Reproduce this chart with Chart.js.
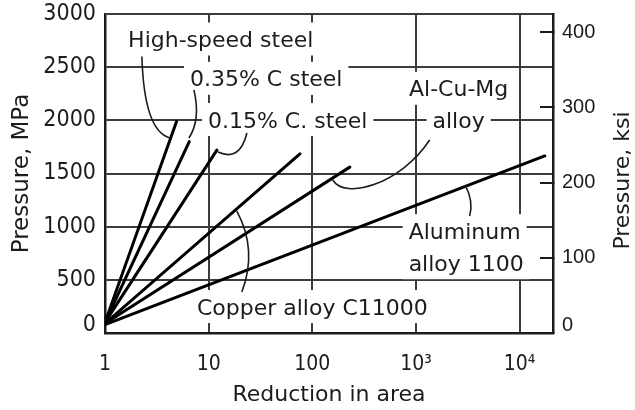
<!DOCTYPE html>
<html>
<head>
<meta charset="utf-8">
<script src="https://cdn.jsdelivr.net/npm/chart.js@4.4.1/dist/chart.umd.min.js"></script>
<style>
  html, body { margin: 0; padding: 0; background: #fff; }
  canvas { display: block; }
</style>
</head>
<body>
<canvas id="chart" width="635" height="410"></canvas>
<script>
// Extrusion pressure against reduction in area, one straight run per material
const materials = ['High-speed steel', '0.35% C steel', '0.15% C. steel', 'Copper alloy C11000', 'Al-Cu-Mg alloy', 'Aluminum alloy 1100'];
const startReduction = [1, 1, 1, 1, 1, 1];
const startPressure = [100, 100, 100, 90, 90, 80];
const endReduction = [4.9, 6.5, 12, 76, 230, 17500];
const endPressure = [1990, 1800, 1720, 1685, 1560, 1665];

// Axis ticks
const xTickValues = [1, 10, 100, 1000, 10000];
const xTickLabels = ['1', '10', '100', '10³', '10⁴'];
const mpaTicks = [0, 500, 1000, 1500, 2000, 2500, 3000];
const ksiTicks = [0, 100, 200, 300, 400];

// Callout text, anchored in data units (reduction, MPa)
const calloutText = [
  ['High-speed steel'],
  ['0.35% C steel'],
  ['0.15% C. steel'],
  ['Al-Cu-Mg', 'alloy'],
  ['Aluminum', 'alloy 1100'],
  ['Copper alloy C11000']
];
const calloutAt = [[1.67, 2765], [6.6, 2395], [9.85, 2008], [2580, 2301], [850, 962], [7.7, 249]];
const calloutAlign = ['left', 'left', 'left', 'center', 'left', 'left'];

// Leader curves from callouts to their lines (data units)
const leaderPaths = [
  [[2.27, 2600], [2.38, 1900], [4.23, 1834]],
  [[7.21, 2286], [8.42, 2003], [6.45, 1834]],
  [[23.4, 1881], [20.0, 1608], [12.3, 1702]],
  [[1357, 1815], [697, 1392], [206, 1251], [157.6, 1439]],
  [[18.7, 1147], [29.8, 781], [20.9, 386]],
  [[3016, 1382], [3602, 1241], [3296, 1100]]
];

const INK = '#1c1c1c';
const GRID = '#3c3c3c';
const SANS = '"DejaVu Sans", "Liberation Sans", sans-serif';
const NARROW = '"Liberation Sans Narrow", "DejaVu Sans Condensed", "Liberation Sans", sans-serif';
const NOTE_SIZE = 22;
const NOTE_FONT = NOTE_SIZE + 'px ' + SANS;
const LINE_GAP = 32;
const BOX_PAD_X = 6;
const BOX_HALF_H = 16.5;

function toPx(chart, p) {
  return [chart.scales.x.getPixelForValue(p[0]), chart.scales.y.getPixelForValue(p[1])];
}

function eachCalloutLine(chart, ctx, fn) {
  calloutText.forEach((lines, k) => {
    const [x0, y0] = toPx(chart, calloutAt[k]);
    lines.forEach((t, i) => {
      const w = ctx.measureText(t).width;
      const left = calloutAlign[k] === 'center' ? x0 - w / 2 : x0;
      fn(t, left, y0 + i * LINE_GAP, w);
    });
  });
}

const calloutPlugin = {
  id: 'callouts',
  beforeDatasetsDraw(chart) {
    // white panels behind the callouts interrupt the grid
    const ctx = chart.ctx;
    ctx.save();
    ctx.font = NOTE_FONT;
    ctx.fillStyle = '#fff';
    eachCalloutLine(chart, ctx, (t, left, cy, w) => {
      ctx.fillRect(left - BOX_PAD_X, cy - BOX_HALF_H, w + 2 * BOX_PAD_X, 2 * BOX_HALF_H);
    });
    ctx.restore();
  },
  afterDatasetsDraw(chart) {
    const ctx = chart.ctx;
    ctx.save();
    // leader curves
    ctx.strokeStyle = INK;
    ctx.lineWidth = 1.6;
    leaderPaths.forEach(path => {
      const p = path.map(q => toPx(chart, q));
      ctx.beginPath();
      ctx.moveTo(p[0][0], p[0][1]);
      if (p.length === 3) ctx.quadraticCurveTo(p[1][0], p[1][1], p[2][0], p[2][1]);
      else ctx.bezierCurveTo(p[1][0], p[1][1], p[2][0], p[2][1], p[3][0], p[3][1]);
      ctx.stroke();
    });
    // callout text, cap height centred on the anchor
    ctx.font = NOTE_FONT;
    ctx.fillStyle = INK;
    ctx.textAlign = 'left';
    ctx.textBaseline = 'alphabetic';
    eachCalloutLine(chart, ctx, (t, left, cy) => {
      ctx.fillText(t, left, cy + NOTE_SIZE * 0.365);
    });
    // right-hand axis title, reading bottom to top
    const area = chart.chartArea;
    ctx.font = '22px ' + SANS;
    ctx.textAlign = 'center';
    ctx.textBaseline = 'middle';
    ctx.translate(chart.width - 12, (area.top + area.bottom) / 2 + 7);
    ctx.rotate(-Math.PI / 2);
    ctx.fillText('Pressure, ksi', 0, 0);
    ctx.restore();
  }
};

const datasets = materials.map((name, i) => ({
  label: name,
  data: [
    { x: startReduction[i], y: startPressure[i] },
    { x: endReduction[i], y: endPressure[i] }
  ],
  borderColor: '#000',
  borderWidth: 3,
  borderCapStyle: 'round',
  pointRadius: 0,
  tension: 0,
  xAxisID: 'x',
  yAxisID: 'y'
}));

// fixed axis bands; end labels may overhang the plot edges
function fixBand(size) {
  return s => {
    if (s.isHorizontal()) s.height = size; else s.width = size;
    s.paddingTop = 0; s.paddingBottom = 0; s.paddingLeft = 0; s.paddingRight = 0;
  };
}

new Chart(document.getElementById('chart'), {
  type: 'line',
  data: { datasets },
  plugins: [calloutPlugin],
  options: {
    responsive: false,
    animation: false,
    layout: { padding: { top: 14, left: 0, right: 0, bottom: 0 } },
    plugins: { legend: { display: false }, tooltip: { enabled: false } },
    scales: {
      x: {
        type: 'logarithmic',
        min: 1,
        max: 21000,
        afterBuildTicks: s => { s.ticks = xTickValues.map(v => ({ value: v })); },
        afterFit: fixBand(77),
        grid: { color: GRID, lineWidth: 2, drawTicks: false },
        border: { color: INK, width: 2.5 },
        ticks: {
          color: INK,
          padding: 19,
          maxRotation: 0,
          autoSkip: false,
          font: { family: NARROW, size: 21 },
          callback: v => xTickLabels[xTickValues.indexOf(v)]
        },
        title: {
          display: true,
          text: 'Reduction in area',
          color: INK,
          font: { family: SANS, size: 22, lineHeight: 1 },
          padding: { top: 0, bottom: 4 }
        }
      },
      y: {
        position: 'left',
        min: 0,
        max: 3000,
        afterBuildTicks: s => { s.ticks = mpaTicks.map(v => ({ value: v })); },
        afterFit: fixBand(105),
        grid: { color: GRID, lineWidth: 2, drawTicks: false },
        border: { color: INK, width: 2.5 },
        ticks: {
          color: INK,
          padding: 9,
          font: c => ({ family: NARROW, size: 23, lineHeight: (c.tick && c.tick.value === 0) ? '16px' : 1.2 }),
          callback: v => v === 0 ? ['0', ''] : String(v)
        },
        title: {
          display: true,
          text: 'Pressure, MPa',
          color: INK,
          font: { family: SANS, size: 23, lineHeight: 1 },
          padding: { top: 11, bottom: 0 }
        }
      },
      y2: {
        position: 'right',
        min: 0,
        max: 424,
        afterBuildTicks: s => { s.ticks = ksiTicks.map(v => ({ value: v })); },
        afterFit: fixBand(82),
        grid: { drawOnChartArea: false, drawTicks: true, tickLength: -13, color: INK, lineWidth: 2 },
        border: { color: INK, width: 2.5 },
        ticks: {
          color: INK,
          padding: 22,
          font: c => ({ family: '"Liberation Sans", sans-serif', size: 20, lineHeight: (c.tick && c.tick.value === 0) ? '16px' : 1.2 }),
          callback: v => v === 0 ? ['0', ''] : String(v)
        }
      }
    }
  }
});
</script>
</body>
</html>
